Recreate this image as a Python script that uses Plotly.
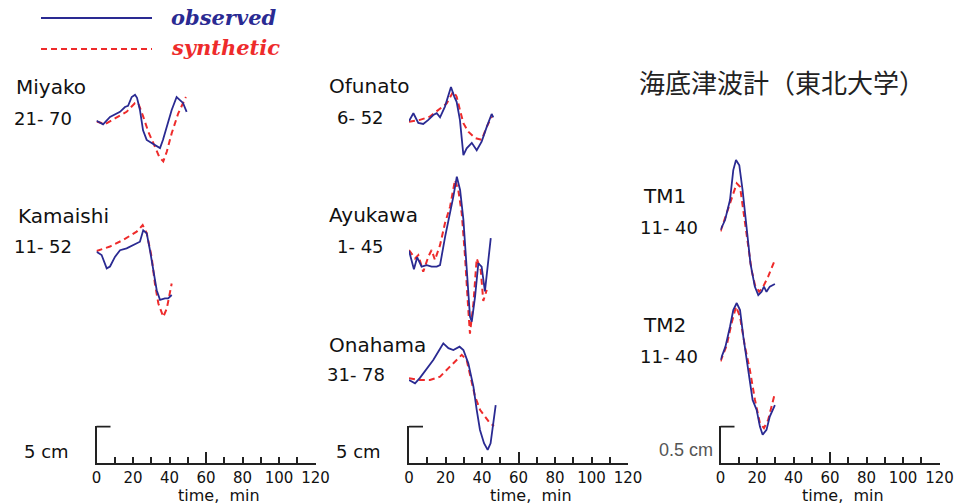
import plotly.graph_objects as go

W, H = 958, 504

# ---------------- data (time in minutes from window start, amplitude in cm) ----------------
stations = ["Miyako", "Kamaishi", "Ofunato", "Ayukawa", "Onahama", "TM1", "TM2"]
windows = ["21- 70", "11- 52", "6- 52", "1- 45", "31- 78", "11- 40", "11- 40"]

miyako_t_obs = [0, 3.6, 7.4, 12.9, 15.6, 17.3, 19.3, 21.1, 22.2, 23.8, 25.5, 27.5, 30.2, 33.0, 34.8, 36.4, 38.5, 41.2, 43.9, 45.8, 47.4, 49.4]
miyako_obs = [0, -0.5, 0.5, 1.2, 1.85, 2.0, 3.2, 3.5, 3.1, 1.45, -1.3, -2.6, -3.0, -3.5, -3.7, -2.6, -0.8, 1.45, 3.2, 2.8, 2.4, 1.2]
miyako_t_syn = [0, 4.7, 10.1, 16.5, 21.1, 22.9, 25.6, 28.4, 32.0, 34.4, 36.6, 38.5, 41.2, 44.8, 49.0]
miyako_syn = [-0.1, -0.45, 0.3, 1.2, 2.4, 2.35, 0.55, -1.5, -3.5, -4.9, -5.5, -4.2, -1.7, 1.0, 3.2]

kamaishi_t_obs = [0, 2.8, 5.6, 7.4, 10.1, 12.9, 16.5, 20.2, 23.8, 25.6, 27.5, 29.3, 31.1, 33.0, 34.8, 37.5, 39.3, 41.2]
kamaishi_obs = [0, -0.45, -2.25, -2.0, -0.7, 0.2, 0.45, 0.9, 1.35, 2.9, 2.5, 0.2, -2.5, -5.2, -6.5, -6.3, -6.3, -5.85]
kamaishi_t_syn = [0, 7.4, 14.7, 22.0, 25.3, 27.5, 30.2, 32.0, 33.9, 36.6, 38.5, 41.2]
kamaishi_syn = [0.1, 0.7, 1.6, 2.7, 3.6, 2.5, -0.7, -4.3, -7.0, -8.8, -7.7, -4.3]

ofunato_t_obs = [0, 2.4, 5.1, 7.8, 10.6, 13.3, 15.2, 17.0, 19.7, 21.5, 23.0, 24.8, 26.1, 27.9, 29.8, 31.6, 34.4, 37.1, 39.8, 42.6, 45.3, 46.2]
ofunato_obs = [0, 1.05, -0.25, -0.4, 0.15, 0.8, 1.05, 0.5, 1.95, 3.3, 4.6, 3.3, 2.6, 0.15, -4.6, -3.7, -2.95, -3.95, -2.8, -0.8, 0.95, 0.5]
ofunato_t_syn = [0, 6.0, 11.5, 16.0, 20.7, 24.3, 26.1, 27.9, 29.8, 32.5, 36.2, 39.8, 42.6, 45.3]
ofunato_syn = [-0.1, 0.15, 0.6, 1.5, 2.4, 4.0, 3.3, 1.5, -0.3, -1.45, -2.3, -2.55, -0.8, 0.6]

ayukawa_t_obs = [0, 2.7, 4.5, 6.9, 9.7, 12.4, 15.2, 17.0, 19.8, 22.5, 24.3, 26.2, 28.0, 29.8, 31.6, 33.4, 34.4, 36.2, 38.0, 39.8, 41.6, 43.5, 44.8]
ayukawa_obs = [0, -2.5, -0.9, -2.15, -1.95, -2.15, -2.15, -1.95, 1.9, 5.05, 7.3, 10.0, 8.2, 4.2, -2.6, -8.9, -9.6, -6.2, -1.7, -2.15, -5.5, -1.7, 1.7]
ayukawa_t_syn = [0, 3.3, 5.1, 7.8, 10.6, 12.4, 14.2, 17.0, 19.7, 22.5, 25.2, 27.0, 28.9, 30.7, 32.5, 33.4, 35.3, 37.1, 39.3, 40.7, 42.6]
ayukawa_syn = [0.1, -1.05, -0.6, -2.85, -0.8, 0.1, -1.25, 0.75, 3.7, 5.95, 9.55, 8.2, 5.05, -0.8, -8.0, -11.2, -7.1, -1.05, -2.6, -6.8, -5.3]

onahama_t_obs = [0, 3.3, 5.9, 9.6, 13.3, 16.6, 18.8, 21.6, 24.3, 27.7, 29.8, 32.5, 35.3, 37.1, 38.9, 41.1, 43.1, 44.7, 46.2, 47.5]
onahama_obs = [0, -0.45, 0.25, 1.45, 2.7, 4.05, 4.95, 4.3, 4.05, 4.5, 4.05, 2.25, -0.9, -4.05, -6.75, -8.55, -9.45, -8.55, -5.4, -3.4]
onahama_t_syn = [0, 5.9, 11.5, 17.0, 21.6, 26.1, 28.9, 31.6, 33.4, 36.2, 39.0, 41.6, 44.4, 46.6]
onahama_syn = [0.25, 0, 0, 0.45, 1.6, 2.7, 3.4, 2.7, 0.9, -2.25, -4.05, -4.95, -5.85, -6.2]

tm1_t_obs = [0, 2.5, 5.2, 7.0, 8.5, 10.3, 12.1, 14.3, 16.4, 18.8, 20.7, 22.5, 23.8, 25.2, 27.0, 29.8]
tm1_obs = [0, 0.135, 0.405, 0.81, 0.945, 0.875, 0.54, 0.045, -0.45, -0.765, -0.88, -0.835, -0.765, -0.835, -0.765, -0.73]
tm1_t_syn = [0, 3.4, 6.1, 8.9, 10.7, 12.5, 14.7, 17.0, 18.9, 21.2, 23.4, 26.1, 29.8]
tm1_syn = [-0.02, 0.225, 0.45, 0.63, 0.585, 0.27, -0.135, -0.54, -0.745, -0.835, -0.765, -0.63, -0.405]

tm2_t_obs = [0, 2.7, 5.2, 7.0, 8.9, 10.7, 12.5, 15.2, 17.6, 19.8, 21.6, 23.1, 25.2, 27.0, 29.8]
tm2_obs = [0, 0.18, 0.45, 0.675, 0.77, 0.675, 0.315, -0.135, -0.54, -0.675, -0.9, -1.01, -0.945, -0.765, -0.61]
tm2_t_syn = [0, 3.4, 6.1, 8.5, 10.7, 13.4, 16.1, 18.9, 21.6, 23.8, 26.1, 29.8]
tm2_syn = [-0.02, 0.2, 0.5, 0.72, 0.585, 0.18, -0.135, -0.54, -0.855, -0.92, -0.81, -0.45]

time_ticks = [0, 10, 20, 30, 40, 50, 60, 70, 80, 90, 100, 110, 120]
time_ticktext = ["0", "", "20", "", "40", "", "60", "", "80", "", "100", "", "120"]
long_ticks = [60, 120]
scale_values = [5, 5, 0.5]
scale_labels = ["5 cm", "5 cm", "0.5 cm"]

series = {
    "Miyako": (miyako_t_obs, miyako_obs, miyako_t_syn, miyako_syn),
    "Kamaishi": (kamaishi_t_obs, kamaishi_obs, kamaishi_t_syn, kamaishi_syn),
    "Ofunato": (ofunato_t_obs, ofunato_obs, ofunato_t_syn, ofunato_syn),
    "Ayukawa": (ayukawa_t_obs, ayukawa_obs, ayukawa_t_syn, ayukawa_syn),
    "Onahama": (onahama_t_obs, onahama_obs, onahama_t_syn, onahama_syn),
    "TM1": (tm1_t_obs, tm1_obs, tm1_t_syn, tm1_syn),
    "TM2": (tm2_t_obs, tm2_obs, tm2_t_syn, tm2_syn),
}

# ---------------- layout geometry (pixels) ----------------
BLUE = "#2a2a92"
RED = "#ee2b2b"
AXC = "#222"
FONT = "DejaVu Sans"
col_x0 = [96.5, 409, 720.5]      # pixel of t=0 in each column
PX_PER_MIN = 1.825
BASE_Y = 462.5                   # pixel of time axis
BAR_PX = 37                      # scale bar height in pixels
col_px_per_cm = [BAR_PX / v for v in scale_values]

# station -> (column, pixel y of trace start, name label (x,y), window label (x,y))
station_pos = {
    "Miyako": (0, 120.7, (14, 87), (12, 118)),
    "Kamaishi": (0, 251.7, (16, 215.5), (12, 246)),
    "Ofunato": (1, 121.0, (327, 86), (335, 117)),
    "Ayukawa": (1, 250.7, (327, 215), (335, 246)),
    "Onahama": (1, 380.0, (327, 344.5), (325, 374)),
    "TM1": (2, 230.0, (641, 196), (638, 227.5)),
    "TM2": (2, 360.0, (641, 325), (638, 356)),
}

def px_x(x):
    return x / W

def px_y(y):
    return 1 - y / H

fig = go.Figure()
layout = dict(
    template="none",
    width=W, height=H, margin=dict(l=0, r=0, t=0, b=0, pad=0), autosize=False,
    paper_bgcolor="white", plot_bgcolor="rgba(0,0,0,0)",
    showlegend=False, font=dict(family=FONT, color="#111"),
)
shapes = []

# column axes: x1..x3 time axes, y1..y3 scale bars, x4..x6 overlay long ticks
for c in range(3):
    xi, yi, oi = c + 1, c + 1, c + 4
    xd = [px_x(col_x0[c]), px_x(col_x0[c] + 120 * PX_PER_MIN)]
    layout[f"xaxis{xi}"] = dict(
        domain=xd, range=[0, 120], anchor=f"y{yi}", automargin=False,
        tickvals=time_ticks, ticktext=time_ticktext, ticks="inside", ticklen=6,
        tickwidth=1.6, tickcolor=AXC, showline=True, linewidth=2, linecolor=AXC,
        showgrid=False, zeroline=False, tickfont=dict(size=15, color="#111"),
    )
    layout[f"xaxis{oi}"] = dict(
        domain=xd, range=[0, 120], anchor=f"y{yi}", overlaying=f"x{xi}", automargin=False,
        tickvals=long_ticks, ticks="inside", ticklen=11, tickwidth=1.6, tickcolor=AXC,
        showticklabels=False, showline=False, showgrid=False, zeroline=False,
    )
    layout[f"yaxis{yi}"] = dict(
        domain=[px_y(BASE_Y), px_y(BASE_Y - BAR_PX)], range=[0, scale_values[c]],
        anchor=f"x{xi}", showticklabels=False, showline=True, automargin=False,
        linewidth=2, linecolor=AXC, showgrid=False, zeroline=False,
    )
    # short horizontal cap at the top of the scale bar (1 px inside to avoid clipping)
    cap = scale_values[c] * (1 - 1.0 / BAR_PX)
    shapes.append(dict(type="line", xref=f"x{xi}", yref=f"y{yi}", xsizemode="pixel", xanchor=0,
                       x0=-1, x1=14, y0=cap, y1=cap, layer="above",
                       line=dict(color=AXC, width=2)))
    fig.add_trace(go.Scatter(x=[], y=[], xaxis=f"x{xi}", yaxis=f"y{yi}", hoverinfo="skip"))
    fig.add_trace(go.Scatter(x=[], y=[], xaxis=f"x{oi}", yaxis=f"y{yi}", hoverinfo="skip"))

annotations = []
# station axes and traces
HALF = 120  # half height of each station axis, px
for i, name in enumerate(stations):
    c, y0, nxy, wxy = station_pos[name]
    ya = 7 + i
    ppcm = col_px_per_cm[c]
    layout[f"yaxis{ya}"] = dict(
        domain=[px_y(y0 + HALF), px_y(y0 - HALF)], automargin=False,
        range=[-HALF / ppcm, HALF / ppcm], anchor=f"x{c + 1}", visible=False,
    )
    t_o, v_o, t_s, v_s = series[name]
    fig.add_trace(go.Scatter(x=t_s, y=v_s, mode="lines", xaxis=f"x{c + 1}", yaxis=f"y{ya}",
                             line=dict(color=RED, width=2, dash="6px,4px"), name="synthetic"))
    fig.add_trace(go.Scatter(x=t_o, y=v_o, mode="lines", xaxis=f"x{c + 1}", yaxis=f"y{ya}",
                             line=dict(color=BLUE, width=1.8), name="observed"))
    annotations.append(dict(text=name, x=px_x(nxy[0]), y=px_y(nxy[1]), xref="paper", yref="paper",
                            xanchor="left", yanchor="middle", showarrow=False,
                            font=dict(size=20, family=FONT, color="#111")))
    annotations.append(dict(text=windows[i], x=px_x(wxy[0]), y=px_y(wxy[1]), xref="paper", yref="paper",
                            xanchor="left", yanchor="middle", showarrow=False,
                            font=dict(size=18, family=FONT, color="#111")))

# scale labels and axis titles
scale_label_pos = [(22, 451), (334, 451), (657, 450)]
for c in range(3):
    sx, sy = scale_label_pos[c]
    if c < 2:
        f = dict(size=18, family=FONT, color="#111")
    else:
        f = dict(size=18, family="Liberation Sans", color="#555")
    annotations.append(dict(text=scale_labels[c], x=px_x(sx), y=px_y(sy), xref="paper", yref="paper",
                            xanchor="left", yanchor="middle", showarrow=False, font=f))
    annotations.append(dict(text="time,  min", x=67, xref=f"x{c + 1}", y=px_y(495), yref="paper",
                            xanchor="center", yanchor="middle", showarrow=False,
                            font=dict(size=16, family=FONT, color="#111")))

# title (Japanese)
annotations.append(dict(text="海底津波計（東北大学）", x=px_x(637), y=px_y(82), xref="paper", yref="paper",
                        xanchor="left", yanchor="middle", showarrow=False,
                        font=dict(size=26, family="Noto Sans CJK JP", color="#222")))

# legend (manual, to match long key lines)
shapes += [
    dict(type="line", xref="paper", yref="paper", x0=px_x(41), x1=px_x(152), y0=px_y(18), y1=px_y(18),
         line=dict(color=BLUE, width=1.8)),
    dict(type="line", xref="paper", yref="paper", x0=px_x(41), x1=px_x(152), y0=px_y(49), y1=px_y(49),
         line=dict(color=RED, width=2, dash="6px,4px")),
]
annotations.append(dict(text="<b><i>observed</i></b>", x=px_x(169), y=px_y(18), xref="paper", yref="paper",
                        xanchor="left", yanchor="middle", showarrow=False,
                        font=dict(size=21, family="DejaVu Serif", color=BLUE)))
annotations.append(dict(text="<b><i>synthetic</i></b>", x=px_x(169), y=px_y(47), xref="paper", yref="paper",
                        xanchor="left", yanchor="middle", showarrow=False,
                        font=dict(size=21, family="DejaVu Serif", color=RED)))

layout["annotations"] = annotations
layout["shapes"] = shapes
fig.update_layout(**layout)
fig.write_html(
    "out.html",
    config={"responsive": False, "displayModeBar": False},
    post_script="document.body.style.margin='0px';document.body.style.overflow='hidden';",
)
